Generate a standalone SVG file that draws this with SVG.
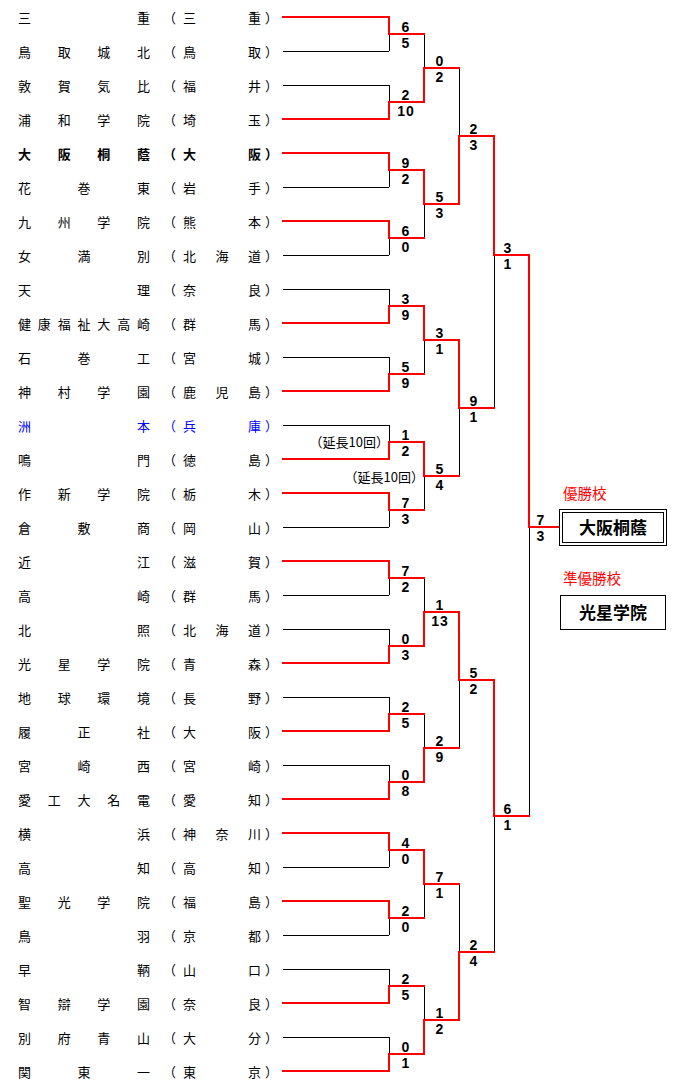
<svg xmlns="http://www.w3.org/2000/svg" width="680" height="1089" viewBox="0 0 680 1089">
<style>
.t{font-family:"Noto Sans CJK JP","Noto Sans CJK SC",sans-serif;font-size:13px;fill:#000}
.bd{font-weight:bold}
.bl{fill:#0000ff}
.s{font-family:"Liberation Sans",Arial,sans-serif;font-size:14px;font-weight:bold;fill:#000;text-anchor:middle;letter-spacing:1px}
.n{font-family:"Noto Sans CJK JP","Noto Sans CJK SC",sans-serif;font-size:13px;fill:#000;text-anchor:end}
.lab{font-family:"Noto Sans CJK JP","Noto Sans CJK SC",sans-serif;font-size:14.5px;fill:#ff0000}
.win{font-family:"Noto Sans CJK JP","Noto Sans CJK SC",sans-serif;font-size:17px;font-weight:bold;fill:#000;text-anchor:middle}
.k{fill:none;stroke:#000;stroke-width:1}
.r{fill:none;stroke:#ff0000;stroke-width:2;stroke-linejoin:miter;stroke-linecap:square}
.box{fill:#fff;stroke:#000;stroke-width:1}
</style>
<rect width="680" height="1089" fill="#fff"/>
<g id="teams">
<g id="team-1"><text class="t" x="18 137 163 183 248 265" y="23">三重（三重）</text></g>
<g id="team-2"><text class="t" x="18 57.67 97.33 137 163 183 248 265" y="57">鳥取城北（鳥取）</text></g>
<g id="team-3"><text class="t" x="18 57.67 97.33 137 163 183 248 265" y="91">敦賀気比（福井）</text></g>
<g id="team-4"><text class="t" x="18 57.67 97.33 137 163 183 248 265" y="125">浦和学院（埼玉）</text></g>
<g id="team-5"><text class="t bd" x="18 57.67 97.33 137 163 183 248 265" y="159">大阪桐蔭（大阪）</text></g>
<g id="team-6"><text class="t" x="18 77.5 137 163 183 248 265" y="193">花巻東（岩手）</text></g>
<g id="team-7"><text class="t" x="18 57.67 97.33 137 163 183 248 265" y="227">九州学院（熊本）</text></g>
<g id="team-8"><text class="t" x="18 77.5 137 163 183 215.5 248 265" y="261">女満別（北海道）</text></g>
<g id="team-9"><text class="t" x="18 137 163 183 248 265" y="295">天理（奈良）</text></g>
<g id="team-10"><text class="t" x="18 37.83 57.67 77.5 97.33 117.17 137 163 183 248 265" y="329">健康福祉大高崎（群馬）</text></g>
<g id="team-11"><text class="t" x="18 77.5 137 163 183 248 265" y="363">石巻工（宮城）</text></g>
<g id="team-12"><text class="t" x="18 57.67 97.33 137 163 183 215.5 248 265" y="397">神村学園（鹿児島）</text></g>
<g id="team-13"><text class="t bl" x="18 137 163 183 248 265" y="431">洲本（兵庫）</text></g>
<g id="team-14"><text class="t" x="18 137 163 183 248 265" y="465">鳴門（徳島）</text></g>
<g id="team-15"><text class="t" x="18 57.67 97.33 137 163 183 248 265" y="499">作新学院（栃木）</text></g>
<g id="team-16"><text class="t" x="18 77.5 137 163 183 248 265" y="533">倉敷商（岡山）</text></g>
<g id="team-17"><text class="t" x="18 137 163 183 248 265" y="567">近江（滋賀）</text></g>
<g id="team-18"><text class="t" x="18 137 163 183 248 265" y="601">高崎（群馬）</text></g>
<g id="team-19"><text class="t" x="18 137 163 183 215.5 248 265" y="635">北照（北海道）</text></g>
<g id="team-20"><text class="t" x="18 57.67 97.33 137 163 183 248 265" y="669">光星学院（青森）</text></g>
<g id="team-21"><text class="t" x="18 57.67 97.33 137 163 183 248 265" y="703">地球環境（長野）</text></g>
<g id="team-22"><text class="t" x="18 77.5 137 163 183 248 265" y="737">履正社（大阪）</text></g>
<g id="team-23"><text class="t" x="18 77.5 137 163 183 248 265" y="771">宮崎西（宮崎）</text></g>
<g id="team-24"><text class="t" x="18 47.75 77.5 107.25 137 163 183 248 265" y="805">愛工大名電（愛知）</text></g>
<g id="team-25"><text class="t" x="18 137 163 183 215.5 248 265" y="839">横浜（神奈川）</text></g>
<g id="team-26"><text class="t" x="18 137 163 183 248 265" y="873">高知（高知）</text></g>
<g id="team-27"><text class="t" x="18 57.67 97.33 137 163 183 248 265" y="907">聖光学院（福島）</text></g>
<g id="team-28"><text class="t" x="18 137 163 183 248 265" y="941">鳥羽（京都）</text></g>
<g id="team-29"><text class="t" x="18 137 163 183 248 265" y="975">早鞆（山口）</text></g>
<g id="team-30"><text class="t" x="18 57.67 97.33 137 163 183 248 265" y="1009">智辯学園（奈良）</text></g>
<g id="team-31"><text class="t" x="18 57.67 97.33 137 163 183 248 265" y="1043">別府青山（大分）</text></g>
<g id="team-32"><text class="t" x="18 77.5 137 163 183 248 265" y="1077">関東一（東京）</text></g>
</g>
<g id="connectors" shape-rendering="crispEdges">
<path class="k" d="M283 51H389M283 85H389M283 187H389M283 255H389M283 289H389M283 357H389M283 425H389M283 527H389M283 595H389M283 629H389M283 697H389M283 765H389M283 867H389M283 935H389M283 969H389M283 1037H389"/>
<path class="k" d="M389 17V51M389 85V119M389 153V187M389 221V255M389 289V323M389 357V391M389 425V459M389 493V527M389 561V595M389 629V663M389 697V731M389 765V799M389 833V867M389 901V935M389 969V1003M389 1037V1071"/>
<path class="k" d="M424 34V102M424 170V238M424 306V374M424 442V510M424 578V646M424 714V782M424 850V918M424 986V1054"/>
<path class="k" d="M459 68V204M459 340V476M459 612V748M459 884V1020M494 136V408M494 680V952M529 255V816"/>
<path class="r" d="M283 17H389V34H424M283 119H389V102H424M283 153H389V170H424M283 221H389V238H424M283 323H389V306H424M283 391H389V374H424M283 459H389V442H424M283 493H389V510H424M283 561H389V578H424M283 663H389V646H424M283 731H389V714H424M283 799H389V782H424M283 833H389V850H424M283 901H389V918H424M283 1003H389V986H424M283 1071H389V1054H424"/>
<path class="r" d="M424 102V68H459M424 170V204H459M424 306V340H459M424 442V476H459M424 646V612H459M424 782V748H459M424 850V884H459M424 1054V1020H459"/>
<path class="r" d="M459 204V136H494M459 340V408H494M459 612V680H494M459 1020V952H494M494 136V255H529M494 680V816H529M529 255V527H559"/>
</g>
<g id="scores">
<g id="r1"><text class="s" x="406" y="32">6</text><text class="s" x="406" y="48">5</text>
<text class="s" x="406" y="100">2</text><text class="s" x="406" y="116">10</text>
<text class="s" x="406" y="168">9</text><text class="s" x="406" y="184">2</text>
<text class="s" x="406" y="236">6</text><text class="s" x="406" y="252">0</text>
<text class="s" x="406" y="304">3</text><text class="s" x="406" y="320">9</text>
<text class="s" x="406" y="372">5</text><text class="s" x="406" y="388">9</text>
<text class="s" x="406" y="440">1</text><text class="s" x="406" y="456">2</text>
<text class="s" x="406" y="508">7</text><text class="s" x="406" y="524">3</text>
<text class="s" x="406" y="576">7</text><text class="s" x="406" y="592">2</text>
<text class="s" x="406" y="644">0</text><text class="s" x="406" y="660">3</text>
<text class="s" x="406" y="712">2</text><text class="s" x="406" y="728">5</text>
<text class="s" x="406" y="780">0</text><text class="s" x="406" y="796">8</text>
<text class="s" x="406" y="848">4</text><text class="s" x="406" y="864">0</text>
<text class="s" x="406" y="916">2</text><text class="s" x="406" y="932">0</text>
<text class="s" x="406" y="984">2</text><text class="s" x="406" y="1000">5</text>
<text class="s" x="406" y="1052">0</text><text class="s" x="406" y="1068">1</text></g>
<g id="r2"><text class="s" x="440" y="66">0</text><text class="s" x="440" y="82">2</text>
<text class="s" x="440" y="202">5</text><text class="s" x="440" y="218">3</text>
<text class="s" x="440" y="338">3</text><text class="s" x="440" y="354">1</text>
<text class="s" x="440" y="474">5</text><text class="s" x="440" y="490">4</text>
<text class="s" x="440" y="610">1</text><text class="s" x="440" y="626">13</text>
<text class="s" x="440" y="746">2</text><text class="s" x="440" y="762">9</text>
<text class="s" x="440" y="882">7</text><text class="s" x="440" y="898">1</text>
<text class="s" x="440" y="1018">1</text><text class="s" x="440" y="1034">2</text></g>
<g id="r3"><text class="s" x="474" y="134">2</text><text class="s" x="474" y="150">3</text>
<text class="s" x="474" y="406">9</text><text class="s" x="474" y="422">1</text>
<text class="s" x="474" y="678">5</text><text class="s" x="474" y="694">2</text>
<text class="s" x="474" y="950">2</text><text class="s" x="474" y="966">4</text></g>
<g id="r4"><text class="s" x="508" y="253">3</text><text class="s" x="508" y="269">1</text>
<text class="s" x="508" y="814">6</text><text class="s" x="508" y="830">1</text></g>
<g id="final"><text class="s" x="541" y="525">7</text><text class="s" x="541" y="541">3</text></g>
<g id="notes"><text class="n" x="389" y="447">（延長10回）</text><text class="n" x="424" y="482">（延長10回）</text></g>
</g>
<g id="champion">
<text class="lab" x="563" y="499">優勝校</text>
<rect class="box" x="559.5" y="509.5" width="107" height="36"/>
<rect class="box" x="562.5" y="512.5" width="101" height="30"/>
<text class="win" x="613" y="534">大阪桐蔭</text>
</g>
<g id="runner-up">
<text class="lab" x="563" y="584">準優勝校</text>
<rect class="box" x="560.5" y="595.5" width="105" height="34"/>
<text class="win" x="613" y="619">光星学院</text>
</g>
</svg>
